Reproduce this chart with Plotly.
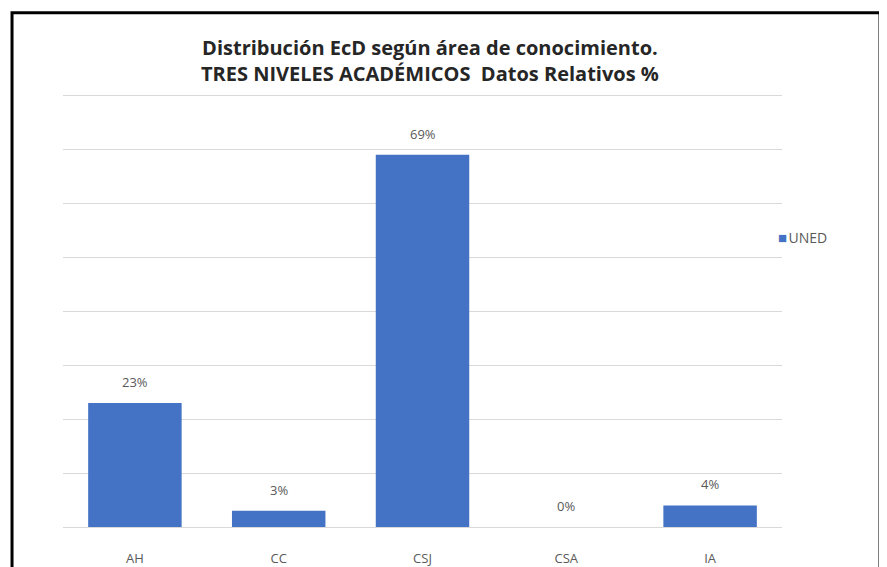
import plotly.graph_objects as go

# Data
areas = ['AH', 'CC', 'CSJ', 'CSA', 'IA']
uned_pct = [23, 3, 69, 0, 4]
series_name = 'UNED'

BAR_COLOR = '#4472C4'
TEXT_GREY = '#595959'
GRID_GREY = '#d9d9d9'
FONT = 'Open Sans, Lato, sans-serif'

fig = go.Figure()

fig.add_trace(go.Bar(
    x=areas,
    y=uned_pct,
    name=series_name,
    marker=dict(color=BAR_COLOR, line=dict(width=0)),
    showlegend=False,
))

# Data labels above each bar
for a, v in zip(areas, uned_pct):
    fig.add_annotation(
        x=a, y=v, text=f'{v}%',
        showarrow=False, yanchor='middle', yshift=21,
        font=dict(family=FONT, size=13, color=TEXT_GREY),
    )

# Legend entry (small square + series name, Excel style)
fig.add_annotation(
    xref='paper', yref='paper', x=0.992, y=0.664,
    xanchor='left', yanchor='middle', showarrow=False,
    text=f"<span style='color:{BAR_COLOR};font-size:15px'>■</span>&#8202;{series_name}",
    font=dict(family=FONT, size=14, color=TEXT_GREY),
)

# Outer chart frame
fig.add_shape(
    type='rect', xref='paper', yref='paper',
    x0=-0.0709, x1=1.1363, y0=-0.12, y1=1.177,
    line=dict(color='black', width=3),
    fillcolor='rgba(0,0,0,0)',
    layer='below',
)

fig.update_layout(
    width=879,
    height=559,
    margin=dict(l=55, r=105, t=82, b=40),
    paper_bgcolor='white',
    plot_bgcolor='white',
    title=dict(
        text='Distribución EcD según área de conocimiento.<br>TRES NIVELES ACADÉMICOS&nbsp; Datos Relativos %',
        x=0.48, xanchor='center',
        y=1 - 47 / 559, yanchor='middle',
        font=dict(family=FONT, size=20, color='#262626', weight='bold'),
    ),
    bargap=0.35,
    showlegend=False,
    font=dict(family=FONT, color=TEXT_GREY),
)

fig.update_xaxes(
    showline=False,
    ticks='',
    ticklabelstandoff=22,
    automargin=False,
    tickfont=dict(size=13, color=TEXT_GREY),
)

fig.update_yaxes(
    range=[0, 81],
    tickvals=[0, 10, 20, 30, 40, 50, 60, 70, 80],
    showgrid=True,
    gridcolor=GRID_GREY,
    gridwidth=1,
    zeroline=True,
    zerolinecolor=GRID_GREY,
    zerolinewidth=1,
    showticklabels=False,
    showline=False,
    automargin=False,
)

fig.write_html('out.html')
